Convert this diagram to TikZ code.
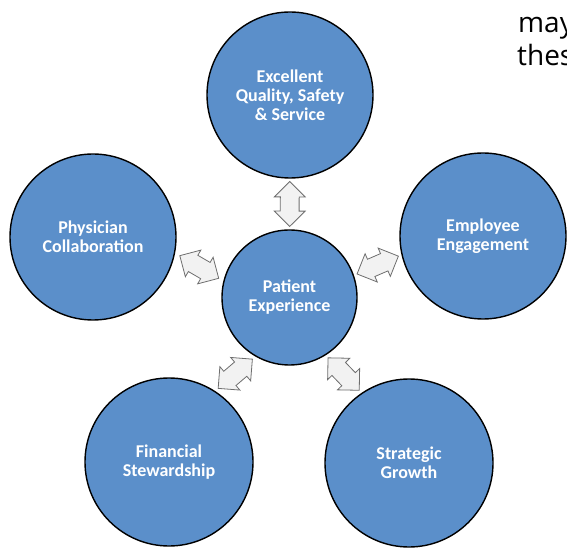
\documentclass[tikz,border=0pt]{standalone}
\usepackage{fontspec}
\setmainfont{Carlito}
\newfontfamily\sidefont{Open Sans}
\usetikzlibrary{shapes.arrows}
\definecolor{circblue}{RGB}{91,143,202}
\definecolor{arrfill}{RGB}{242,242,242}
\definecolor{arrdraw}{RGB}{110,110,110}
\tikzset{
  bigcirc/.style={circle, draw=black, line width=1.4pt, fill=circblue,
    minimum size=166pt, inner sep=0pt, align=center, text=white,
    font=\bfseries\fontsize{18}{19}\selectfont},
  midcirc/.style={bigcirc, minimum size=135pt},
  dblarrow/.style={double arrow, draw=arrdraw, fill=arrfill, line width=0.8pt,
    minimum height=45pt, inner xsep=0pt, inner ysep=9pt,
    double arrow head extend=6pt, double arrow tip angle=90, sloped},
  sidetext/.style={anchor=base west, inner sep=0pt, text=black,
    font=\sidefont\fontsize{28}{32}\selectfont}
}
\begin{document}
\begin{tikzpicture}[x=1pt,y=1pt]
\useasboundingbox (0,0) rectangle (567,549);
\clip (0,0) rectangle (567,549);
\node[sidetext] (t1) at (518,516) {may};
\node[sidetext] (t2) at (517,483) {thes};
\node[midcirc] (pe) at (289.5,251.5) {Patient\\Experience};
\node[bigcirc] (q) at (290,454) {Excellent\\Quality, Safety\\\& Service};
\node[bigcirc] (phys) at (93,312) {Physician\\Collaboration};
\node[bigcirc] (emp) at (483,313) {Employee\\Engagement};
\node[bigcirc, minimum size=168pt] (fin) at (169,87) {Financial\\Stewardship};
\node[bigcirc, minimum size=168pt] (strat) at (409,86) {Strategic\\Growth};
\path (pe) -- (q) node[dblarrow, midway] (a1) {};
\path (pe.166.8) -- (phys.-11.5) node[dblarrow, midway] (a2) {};
\path (pe.19.9) -- (emp.193.7) node[dblarrow, midway] (a3) {};
\path (pe.-120.9) -- (fin.57.4) node[dblarrow, midway] (a4) {};
\path (pe.-58.2) -- (strat.124.4) node[dblarrow, midway] (a5) {};
\end{tikzpicture}
\end{document}
